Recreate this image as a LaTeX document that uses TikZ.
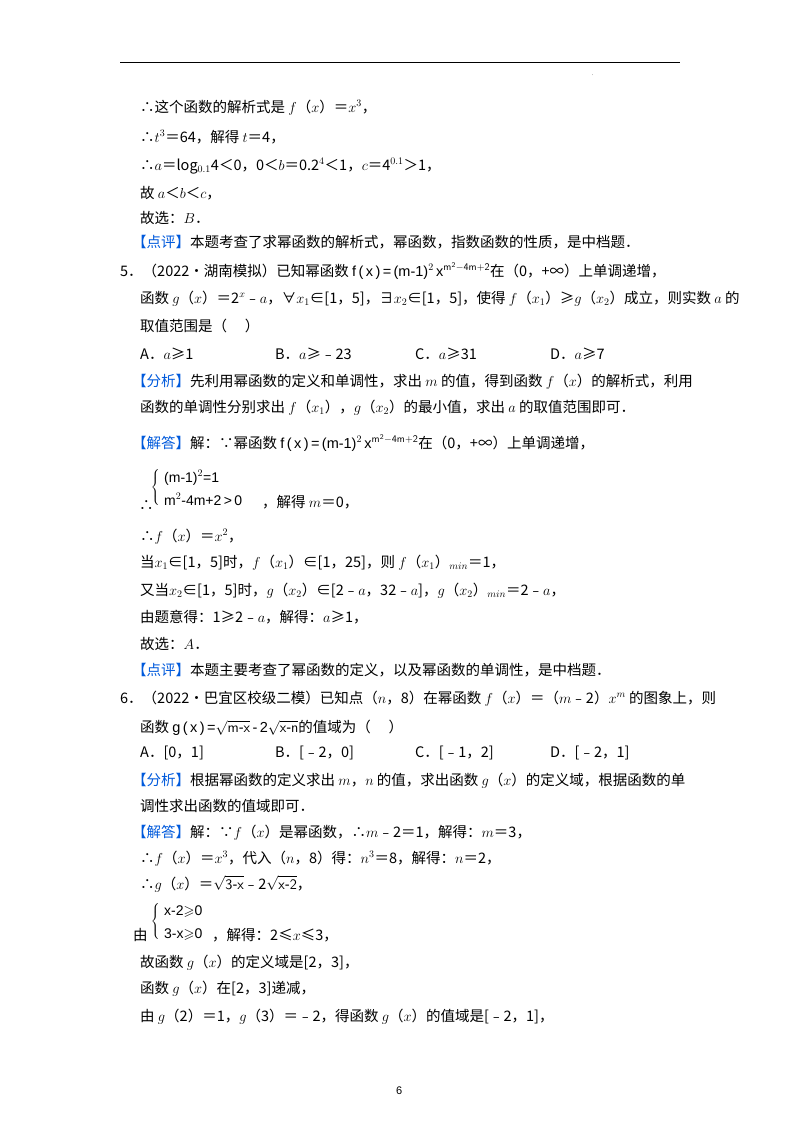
\documentclass[tikz,border=0pt]{standalone}
\usepackage{amsmath,amssymb}
\usepackage{fontspec}
\setmainfont{Liberation Serif}
\newfontfamily\cjk{Noto Sans CJK SC}
\newfontfamily\fsans{Liberation Sans}
\definecolor{hl}{RGB}{0,90,220}
\newcommand{\hb}[1]{{\color{hl}【#1】}}
\newcommand{\pf}{{\fsans f\,(\,x\,)\,=\,(m-1)$^{2}$\,x$^{\mathsf{m^2-4m+2}}$}}
\begin{document}
\begin{tikzpicture}[x=1pt,y=-1pt,
  txt/.style={anchor=base west,inner sep=0pt,font=\cjk\fontsize{14.5}{17}\selectfont},
  brc/.style={inner sep=0pt,anchor=center}]
\useasboundingbox (0,0) rectangle (800,1132);
\fill[white] (0,0) rectangle (800,1132);
\coordinate (ra) at (120,63); \coordinate (rb) at (680,63);
\draw[line width=1pt] (ra) -- (rb);
\node[txt,font=\tiny] (dot) at (592,76) {.};
\node[txt] (l1) at (140,112) {∴这个函数的解析式是 $f$（$x$）＝$x^3$，};
\node[txt] (l2) at (140,142) {∴$t^3$＝64，解得 $t$＝4，};
\node[txt] (l3) at (140,170) {∴$a$＝log$_{0.1}$4＜0，0＜$b$＝0.2$^4$＜1，$c$＝4$^{0.1}$＞1，};
\node[txt] (l4) at (140,198) {故 $a$＜$b$＜$c$，};
\node[txt] (l5) at (140,223) {故选：$B$．};
\node[txt] (l6) at (132,247) {\hb{点评}本题考查了求幂函数的解析式，幂函数，指数函数的性质，是中档题．};
\node[txt] (l7) at (120,276) {5．（2022•湖南模拟）已知幂函数 \pf 在（0，+∞）上单调递增，};
\node[txt] (l8) at (140,303) {函数 $g$（$x$）＝2$^x$﹣$a$，∀$x_1$∈[1，5]，∃$x_2$∈[1，5]，使得 $f$（$x_1$）≥$g$（$x_2$）成立，则实数 $a$ 的};
\node[txt] (l9) at (140,331) {取值范围是（\quad\ ）};
\node[txt] (a1) at (140,359) {A．$a$≥1};
\node[txt] (a2) at (275,359) {B．$a$≥﹣23};
\node[txt] (a3) at (415,359) {C．$a$≥31};
\node[txt] (a4) at (550,359) {D．$a$≥7};
\node[txt] (l10) at (132,386) {\hb{分析}先利用幂函数的定义和单调性，求出 $m$ 的值，得到函数 $f$（$x$）的解析式，利用};
\node[txt] (l11) at (140,412) {函数的单调性分别求出 $f$（$x_1$），$g$（$x_2$）的最小值，求出 $a$ 的取值范围即可．};
\node[txt] (l12) at (132,448) {\hb{解答}解：∵幂函数 \pf 在（0，+∞）上单调递增，};
\node[txt] (l13) at (139,510) {∴};
\node[brc] (br1) at (156,487) {$\left\{\rule{0pt}{22pt}\right.$};
\node[txt,font=\fsans\fontsize{14}{17}\selectfont] (l14) at (164,482) {(m-1)$^2$=1};
\node[txt,font=\fsans\fontsize{14}{17}\selectfont] (l15) at (164,505) {m$^2$-4m+2\,>\,0};
\node[txt] (l15b) at (262,507) {，解得 $m$＝0，};
\node[txt] (l16) at (140,541) {∴$f$（$x$）＝$x^2$，};
\node[txt] (l17) at (140,567) {当$x_1$∈[1，5]时，$f$（$x_1$）∈[1，25]，则 $f$（$x_1$）$_{min}$＝1，};
\node[txt] (l18) at (140,595) {又当$x_2$∈[1，5]时，$g$（$x_2$）∈[2﹣$a$，32﹣$a$]，$g$（$x_2$）$_{min}$＝2﹣$a$，};
\node[txt] (l19) at (140,622) {由题意得：1≥2﹣$a$，解得：$a$≥1，};
\node[txt] (l20) at (140,649) {故选：$A$．};
\node[txt] (l21) at (132,675) {\hb{点评}本题主要考查了幂函数的定义，以及幂函数的单调性，是中档题．};
\node[txt] (l22) at (120,703) {6．（2022•巴宜区校级二模）已知点（$n$，8）在幂函数 $f$（$x$）＝（$m$﹣2）$x^m$ 的图象上，则};
\node[txt] (l23) at (140,732) {函数 {\fsans g\,(\,x\,)\,=$\sqrt{\mathsf{m\text{-}x}}$\,-\,2$\sqrt{\mathsf{x\text{-}n}}$}的值域为（\quad\ ）};
\node[txt] (b1) at (140,757) {A．[0，1]};
\node[txt] (b2) at (275,757) {B．[﹣2，0]};
\node[txt] (b3) at (415,757) {C．[﹣1，2]};
\node[txt] (b4) at (550,757) {D．[﹣2，1]};
\node[txt] (l24) at (132,785) {\hb{分析}根据幂函数的定义求出 $m$，$n$ 的值，求出函数 $g$（$x$）的定义域，根据函数的单};
\node[txt] (l25) at (140,811) {调性求出函数的值域即可．};
\node[txt] (l26) at (132,837) {\hb{解答}解：∵$f$（$x$）是幂函数，∴$m$﹣2＝1，解得：$m$＝3，};
\node[txt] (l27) at (140,863) {∴$f$（$x$）＝$x^3$，代入（$n$，8）得：$n^3$＝8，解得：$n$＝2，};
\node[txt] (l28) at (140,889) {∴$g$（$x$）＝{\fsans$\sqrt{\mathsf{3\text{-}x}}$}﹣2{\fsans$\sqrt{\mathsf{x\text{-}2}}$}，};
\node[txt] (l29) at (133,940) {由};
\node[brc] (br2) at (156,921) {$\left\{\rule{0pt}{20pt}\right.$};
\node[txt,font=\fsans\fontsize{14}{17}\selectfont] (l30) at (164,915) {x-2$\geqslant$0};
\node[txt,font=\fsans\fontsize{14}{17}\selectfont] (l31) at (164,938) {3-x$\geqslant$0};
\node[txt] (l31b) at (212,940) {，解得：2≤$x$≤3，};
\node[txt] (l32) at (140,967) {故函数 $g$（$x$）的定义域是[2，3]，};
\node[txt] (l33) at (140,993) {函数 $g$（$x$）在[2，3]递减，};
\node[txt] (l34) at (140,1021) {由 $g$（2）＝1，$g$（3）＝﹣2，得函数 $g$（$x$）的值域是[﹣2，1]，};
\node[txt,font=\fsans\fontsize{11}{11}\selectfont] (pg) at (396,1094) {6};
\end{tikzpicture}
\end{document}
